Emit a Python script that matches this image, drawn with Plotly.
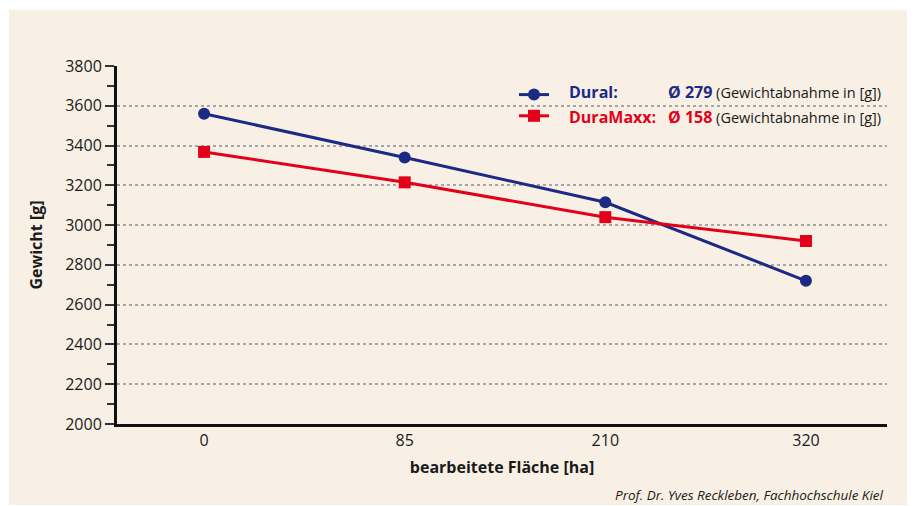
import plotly.graph_objects as go

categories = ["0", "85", "210", "320"]
dural = [3560, 3340, 3115, 2720]
duramaxx = [3368, 3215, 3040, 2920]
series_names = ["Dural:", "DuraMaxx:"]
dural_avg = "Ø 279"
duramaxx_avg = "Ø 158"
y_ticks = list(range(2000, 3801, 200))

BLUE = "#1b2a84"
RED = "#e3001b"
BG = "#f8f0e4"
FONT = "Open Sans"

fig = go.Figure()
fig.add_trace(go.Scatter(
    x=categories, y=dural, mode="lines+markers",
    name="&nbsp;",
    line=dict(color=BLUE, width=3),
    marker=dict(symbol="circle", size=12, color=BLUE),
))
fig.add_trace(go.Scatter(
    x=categories, y=duramaxx, mode="lines+markers",
    name="&nbsp; ",
    line=dict(color=RED, width=3),
    marker=dict(symbol="square", size=12, color=RED),
))

# page body has an 8px margin; work in reference pixel coordinates and shift
OFF = 8
W, H = 915 - OFF, 506 - OFF - 1
L = 117 - OFF
T = 66 - OFF
R = W - (887 - OFF)
B = H - (424 - OFF)
pw, ph = W - L - R, H - T - B

def px(x):
    return (x - OFF - L) / pw

def py(y):
    return (T + ph - (y - OFF)) / ph

fig.add_shape(type="rect", xref="paper", yref="paper",
              x0=px(9), x1=px(911), y0=py(506), y1=py(10),
              fillcolor=BG, line_width=0, layer="below")

for name, txt, col, yy in [(series_names[0], dural_avg, BLUE, 92),
                           (series_names[1], duramaxx_avg, RED, 117)]:
    fig.add_annotation(xref="paper", yref="paper", x=px(567), y=py(yy),
                       xanchor="left", yanchor="middle", showarrow=False,
                       text="<b>%s</b>" % name,
                       font=dict(family=FONT, size=16, color=col))
    fig.add_annotation(xref="paper", yref="paper", x=px(666), y=py(yy),
                       xanchor="left", yanchor="middle", showarrow=False,
                       text="<b><span style='color:%s;font-size:16px'>%s</span></b> (Gewichtabnahme in [g])" % (col, txt),
                       font=dict(family=FONT, size=14.5, color="#1a1a1a"))

fig.add_annotation(xref="paper", yref="paper", x=px(886), y=py(495),
                   xanchor="right", yanchor="middle", showarrow=False,
                   text="<i>Prof. Dr. Yves Reckleben, Fachhochschule Kiel</i>",
                   font=dict(family=FONT, size=13.5, color="#1a1a1a"))

fig.update_layout(
    width=W, height=H,
    margin=dict(l=L, r=R, t=T, b=B),
    paper_bgcolor="white",
    plot_bgcolor="rgba(0,0,0,0)",
    font=dict(family=FONT, size=13, color="#1a1a1a"),
    showlegend=True,
    legend=dict(x=px(514), y=py(79), xanchor="left", yanchor="top",
                bgcolor="rgba(0,0,0,0)", font=dict(size=14, family=FONT),
                tracegroupgap=0, itemwidth=30),
    xaxis=dict(
        type="category", range=[-0.434, 3.404],
        showline=True, linecolor="#111", linewidth=3,
        ticks="", showgrid=False, zeroline=False,
        tickfont=dict(size=16),
        title=dict(text="<b>bearbeitete Fläche [ha]</b>", font=dict(size=16), standoff=12),
    ),
    yaxis=dict(
        range=[2000, 3800], tickvals=y_ticks,
        showline=True, linecolor="#111", linewidth=3,
        ticks="outside", ticklen=9, tickcolor="#333", tickwidth=1.5,
        minor=dict(dtick=100, tick0=2000, ticks="outside", ticklen=7, tickcolor="#333", tickwidth=1.5, showgrid=False),
        showgrid=True, gridcolor="#a5a5a5", griddash="dot", gridwidth=1.5,
        zeroline=False, tickfont=dict(size=16),
        title=dict(text="<b>Gewicht [g]</b>", font=dict(size=16), standoff=19),
    ),
)

fig.write_html("out.html")
